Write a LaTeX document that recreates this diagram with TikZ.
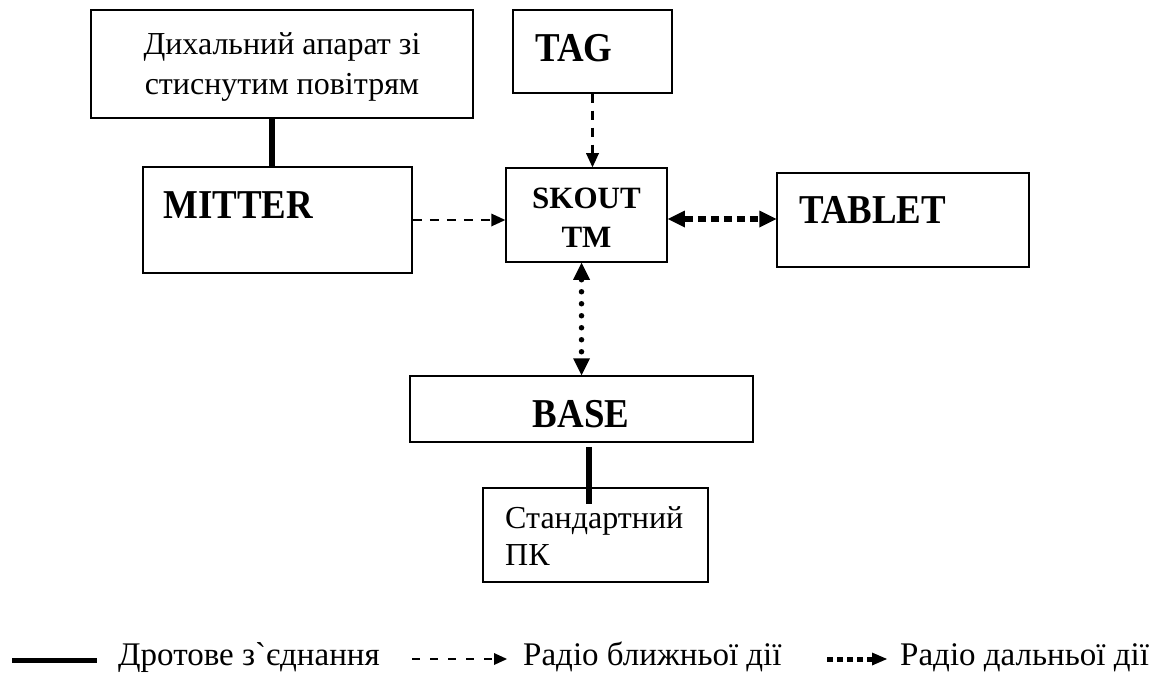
\documentclass[tikz,border=0pt]{standalone}
\usepackage{fontspec}
\setmainfont{Liberation Serif}[Ligatures=TeXOff]
\newfontfamily\lblfont{Liberation Serif Bold}[FakeStretch=0.9]
\newfontfamily\skoutfont{Liberation Serif Bold}
\usepackage{tikz}
\usetikzlibrary{arrows.meta}

\begin{document}
\begin{tikzpicture}[
  x=1pt,y=-1pt,
  box/.style={draw,line width=1.5pt,inner sep=0pt},
  txt/.style={inner sep=0pt,font=\fontsize{32}{40}\selectfont},
  lbl/.style={inner sep=0pt,anchor=base west,font=\lblfont\fontsize{41}{48}\selectfont},
  legtxt/.style={inner sep=0pt,anchor=base west,font=\fontsize{33}{40}\selectfont},
  wire/.style={line width=5.5pt},
  shortradio/.style={line width=2.2pt,dash pattern=on 9pt off 8pt,
    -{Triangle[length=14pt,width=13pt,line width=0pt]}},
  longradio/.style={line width=6pt,dash pattern=on 8pt off 5pt,
    {Triangle[length=17pt,width=17pt,line width=0pt]}-{Triangle[length=17pt,width=17pt,line width=0pt]}}
]
\useasboundingbox (0,0) rectangle (1162,674);

% boxes
\node[box,minimum width=382pt,minimum height=108pt] (breath) at (282,64) {};
\node[box,minimum width=269pt,minimum height=106pt] (mitter) at (277.5,220) {};
\node[box,minimum width=159pt,minimum height=83pt] (tag) at (592.5,51.5) {};
\node[box,minimum width=161pt,minimum height=94pt] (skout) at (586.5,215) {};
\node[box,minimum width=252pt,minimum height=94pt] (tablet) at (903,220) {};
\node[box,minimum width=343pt,minimum height=66pt] (base) at (581.5,409) {};
\node[box,minimum width=225pt,minimum height=94pt] (pc) at (595.5,535) {};

% texts (base anchor sits on the last line)
\node[txt,align=center,anchor=base] (breath-txt) at (282,95) {Дихальний апарат зі\\стиснутим повітрям};
\node[lbl] (mitter-txt) at (163,218) {MITTER};
\node[lbl] (tag-txt) at (535,62) {TAG};
\node[inner sep=0pt,align=center,anchor=base,font=\skoutfont\fontsize{31}{39}\selectfont]
  (skout-txt) at (586.5,247) {SKOUT\\TM};
\node[lbl] (tablet-txt) at (799,223) {TABLET};
\node[lbl,anchor=base] (base-txt) at (581,427) {BASE};
\node[txt,align=left,anchor=base west,font=\fontsize{32}{37}\selectfont]
  (pc-txt) at (505,565) {Стандартний\\ПК};

% links
\draw[wire] ([xshift=-5.5pt]mitter.north) -- ([xshift=-5.5pt]mitter.north |- breath.south);
\draw[shortradio] (tag.south) -- (tag.south |- skout.north);
\draw[shortradio] (mitter.east) -- (mitter.east -| skout.west);
\draw[longradio] ([yshift=-4pt]skout.east) -- ([yshift=-4pt]skout.east -| tablet.west);
\draw[longradio,line width=5.5pt,line cap=round,dash pattern=on 0pt off 12pt]
  (skout.south -| base.north) -- (base.north);
\draw[wire] ([xshift=7.5pt,yshift=-4pt]base.south) -- ([xshift=-6.5pt,yshift=-17pt]pc.north);

% legend
\coordinate (leg-wire-a) at (12,660);
\coordinate (leg-wire-b) at (97,660);
\coordinate (leg-short-a) at (412,659);
\coordinate (leg-short-b) at (507,659);
\coordinate (leg-long-a) at (827,659);
\coordinate (leg-long-b) at (887,659);
\draw[wire,line width=5pt] (leg-wire-a) -- (leg-wire-b);
\node[legtxt] (leg-wire-txt) at (118,665) {Дротове з`єднання};
\draw[shortradio,line width=1.8pt,dash pattern=on 8pt off 10pt,
  -{Triangle[length=13pt,width=12pt,line width=0pt]}] (leg-short-a) -- (leg-short-b);
\node[legtxt] (leg-short-txt) at (523,665) {Радіо ближньої дії};
\draw[longradio,line width=5pt,dash pattern=on 6pt off 4pt,
  -{Triangle[length=15pt,width=13pt,line width=0pt]}] (leg-long-a) -- (leg-long-b);
\node[legtxt] (leg-long-txt) at (900,665) {Радіо дальньої дії};
\end{tikzpicture}
\end{document}
